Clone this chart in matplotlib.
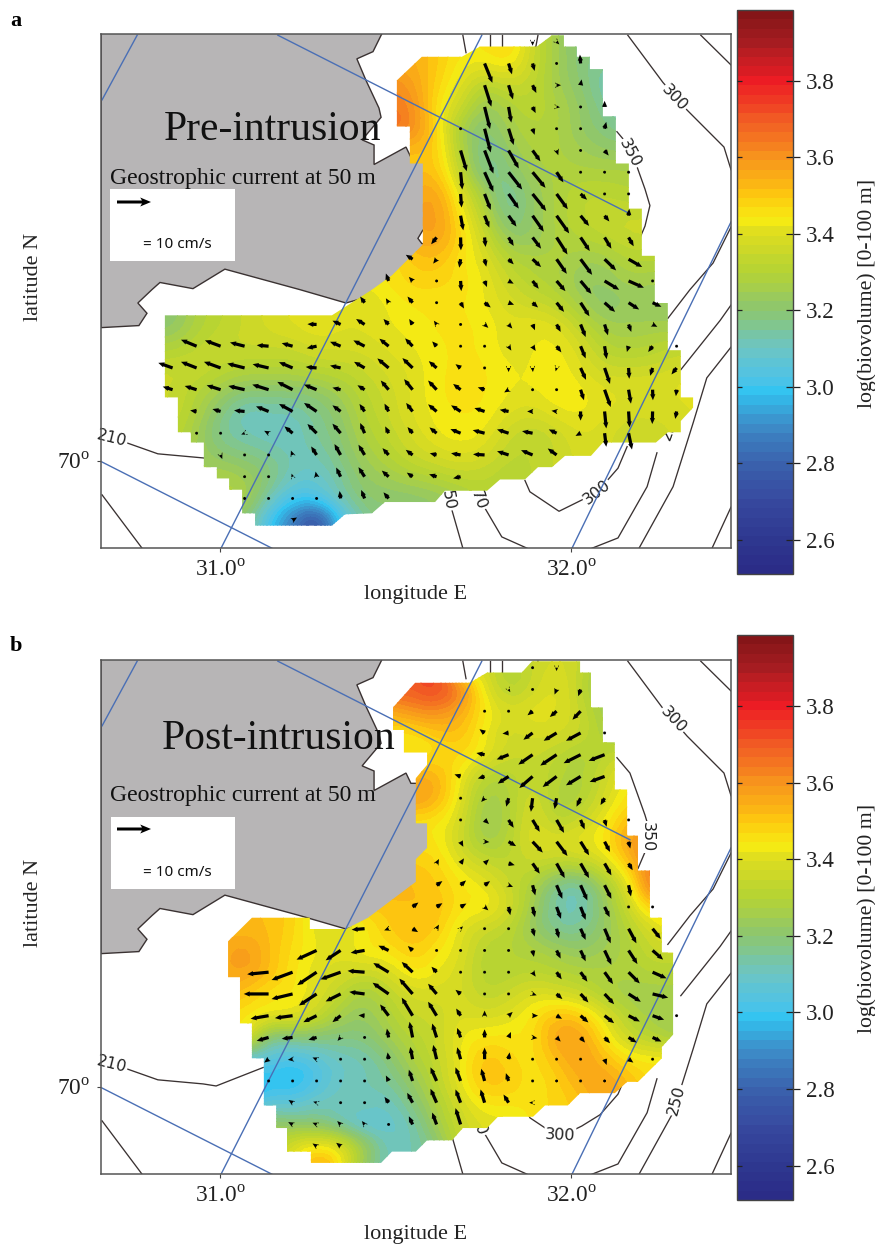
import numpy as np
import matplotlib
matplotlib.use("Agg")
import matplotlib.pyplot as plt
from matplotlib.colors import LinearSegmentedColormap
from matplotlib.patches import Polygon

plt.rcParams['font.family'] = ['Liberation Serif', 'DejaVu Serif']
plt.rcParams['mathtext.fontset'] = 'custom'
plt.rcParams['mathtext.rm'] = 'Liberation Serif'
W, H = 875, 1246

# ---------- sampling grid of the survey ----------
lon_grid = 30.865 + 0.06838 * np.arange(-1, 23)
lat_grid = 70.4087 - 0.0212 * np.arange(-1, 24)
xlim = (30.661, 32.456)
ylim = (69.9152, 70.4162)

# ---------- log(biovolume) x 100, panel a ----------
field_start_a = [13, 10, 9, 9, 9, 9, 10, 10, 10, 9, 8, 7, 6, 0, 0, 0, 0, 0, 0, 1, 2, 3, 3]
field_a = [
 [345, 350, 335, 325, 318],
 [355, 350, 343, 342, 345, 335, 325, 318, 315],
 [362, 358, 348, 340, 330, 335, 333, 325, 320, 312, 310],
 [365, 362, 345, 335, 322, 328, 332, 328, 322, 315, 310],
 [368, 362, 348, 325, 318, 325, 330, 328, 322, 318, 315],
 [350, 352, 350, 328, 315, 322, 328, 328, 325, 322, 322],
 [350, 352, 332, 315, 318, 326, 328, 328, 328, 328, 328],
 [355, 358, 340, 325, 313, 322, 328, 332, 332, 330, 330],
 [355, 360, 345, 330, 315, 322, 328, 332, 335, 335, 335, 335],
 [350, 355, 358, 348, 335, 322, 322, 328, 330, 332, 335, 335, 335],
 [345, 345, 350, 352, 345, 340, 330, 328, 328, 325, 325, 330, 330, 330],
 [342, 342, 345, 348, 348, 346, 342, 335, 330, 328, 322, 322, 326, 325, 325],
 [340, 340, 340, 342, 345, 345, 345, 342, 338, 335, 332, 325, 320, 322, 322, 322],
 [320, 328, 332, 335, 338, 340, 342, 340, 340, 342, 343, 345, 345, 344, 340, 342, 340, 332, 325, 325, 325, 325],
 [328, 332, 335, 335, 335, 335, 338, 338, 338, 340, 342, 344, 345, 344, 340, 342, 343, 338, 330, 328, 330, 332],
 [335, 335, 332, 330, 330, 330, 332, 333, 335, 338, 340, 344, 345, 345, 342, 342, 344, 340, 335, 335, 335, 338],
 [335, 330, 325, 320, 320, 320, 322, 326, 332, 336, 340, 344, 346, 345, 342, 342, 344, 343, 340, 340, 340, 340, 342],
 [335, 328, 318, 310, 312, 312, 316, 322, 330, 335, 340, 343, 345, 344, 340, 338, 342, 343, 340, 338, 338, 338, 340],
 [332, 325, 315, 312, 310, 310, 315, 320, 328, 333, 338, 342, 344, 342, 335, 332, 335, 340, 338, 335, 335],
 [325, 320, 318, 315, 312, 312, 318, 325, 330, 335, 338, 340, 338, 332, 332, 335, 338, 338],
 [328, 325, 320, 310, 308, 315, 322, 325, 328, 330, 333, 332, 330, 332, 335],
 [328, 312, 300, 302, 312, 320, 320, 320, 322, 325],
 [320, 300, 285, 270, 300, 315],
]

# ---------- log(biovolume) x 100, panel b ----------
field_start_b = [13, 10, 9, 9, 9, 10, 10, 10, 10, 10, 9, 9, 3, 2, 2, 3, 3, 4, 4, 3, 4, 4, 5, 6]
field_b = [
 [338, 328, 335, 338, 335, 322],
 [370, 375, 365, 340, 330, 335, 342, 332, 322],
 [355, 360, 362, 355, 345, 338, 342, 340, 335, 325, 320],
 [345, 345, 350, 352, 342, 336, 338, 338, 335, 328, 322],
 [345, 343, 346, 348, 342, 335, 335, 332, 328, 332, 335],
 [355, 355, 342, 330, 330, 335, 330, 328, 335, 345],
 [360, 355, 340, 325, 328, 338, 328, 328, 338, 345, 350],
 [345, 345, 338, 322, 328, 340, 330, 335, 342, 352, 355],
 [345, 345, 335, 325, 330, 340, 340, 342, 345, 358, 365],
 [350, 348, 340, 335, 332, 335, 332, 332, 338, 350, 365],
 [355, 352, 350, 345, 342, 335, 328, 315, 312, 325, 340, 368, 368],
 [350, 352, 352, 345, 345, 338, 325, 312, 310, 322, 335, 350, 348],
 [352, 352, 348, 340, 340, 342, 350, 352, 350, 340, 335, 332, 322, 315, 315, 322, 330, 338, 345],
 [355, 360, 352, 346, 342, 340, 345, 345, 350, 345, 340, 330, 330, 328, 325, 322, 325, 328, 335, 335],
 [355, 358, 352, 345, 340, 338, 335, 338, 345, 342, 338, 330, 330, 332, 330, 328, 328, 328, 330, 330],
 [350, 345, 345, 340, 332, 325, 332, 338, 338, 338, 332, 335, 340, 338, 335, 328, 325, 325, 325],
 [345, 342, 342, 335, 325, 322, 328, 335, 335, 340, 338, 340, 345, 352, 350, 340, 330, 325, 325],
 [315, 318, 318, 318, 318, 325, 330, 335, 342, 345, 345, 345, 358, 358, 345, 335, 330],
 [305, 300, 305, 310, 312, 318, 328, 333, 342, 352, 348, 345, 352, 358, 352, 345, 345],
 [295, 298, 295, 302, 310, 312, 315, 322, 332, 342, 352, 350, 345, 348, 355, 358, 352],
 [305, 305, 310, 312, 312, 310, 318, 328, 338, 345, 345, 345, 348, 350],
 [325, 320, 320, 312, 305, 308, 312, 325, 335, 340, 340],
 [340, 345, 342, 325, 310, 312, 318],
 [360, 345, 320],
]

# ---------- geostrophic current (cm/s), panel a ----------
arrow_start_a = [15, 13, 13, 13, 12, 12, 12, 12, 12, 11, 10, 9, 8, 6, 1, 0, 0, 1, 1, 2, 3, 3, 5]
arrow_u_a = [
 [0.0, 0.8],
 [2.3, 1.0, 0.6, 0.2, -0.2],
 [2.0, 1.3, 1.1, 1.3, 0.3],
 [1.6, 0.8, 0.9, 1.0, 0.1, 0.0],
 [0.3, 1.8, 1.5, 0.6, 0.1, 0.1, 0.5],
 [1.8, 2.6, 3.0, 2.3, 0.5, 0.5, 1.2],
 [0.5, 2.6, 4.0, 3.8, 2.0, 0.1, 0.3, 0.1],
 [0.3, 1.8, 3.0, 4.0, 3.3, 1.9, 0.1, 0.3],
 [0.8, 1.4, 2.3, 3.3, 3.7, 2.5, 1.4, 0.2],
 [-1.6, 0.1, 0.3, 1.5, 2.5, 3.2, 2.7, 2.0, 1.5],
 [-2.0, -1.0, -0.4, 0.5, 1.5, 2.5, 3.0, 3.4, 3.4, 4.0],
 [-0.8, -1.1, -0.8, 0.2, 0.7, 1.5, 1.8, 2.6, 3.2, 4.3, 4.5, 0.1],
 [-1.3, -0.8, -1.5, 0.1, 1.0, 1.8, 1.6, 1.6, 2.2, 2.6, 3.1, 3.1, 2.6],
 [-2.7, -2.4, -2.5, -1.5, -1.0, -0.8, 0.2, 1.1, 1.1, 0.7, 1.2, 1.5, 1.0, 0.8, 1.4],
 [-4.6, -4.6, -4.3, -3.5, -3.2, -2.9, -3.1, -3.3, -2.7, -2.2, -1.3, 0.1, 0.2, 0.8, 0.9, 1.4, 1.5, 0.6, -0.5, -1.3, 0.1],
 [-4.2, -4.6, -4.9, -5.1, -4.7, -4.0, -3.2, -3.1, -3.1, -3.3, -3.0, -2.3, -1.5, 0.1, 0.0, 0.1, -0.3, 1.6, 1.6, 0.2, -0.7, -1.5],
 [-2.9, -3.5, -4.1, -4.8, -4.8, -4.5, -3.7, -2.4, -2.1, -2.3, -2.5, -2.5, -2.2, -2.0, -1.3, -0.6, 0.1, 1.0, 1.8, 0.7, 0.1, -0.2],
 [-1.9, -2.4, -3.1, -3.7, -4.0, -3.7, -2.4, -1.5, -1.2, -1.9, -2.5, -2.8, -3.0, -2.6, -1.6, -1.5, 0.0, 0.5, 0.3, -0.1, -0.4],
 [0.1, -0.6, -1.0, -1.3, -2.4, -2.7, -2.4, -1.3, -1.0, -1.5, -2.1, -3.0, -3.5, -3.4, -3.1, -2.3, -1.5, 0.5, 1.0],
 [0.5, 0.1, 0.1, -0.5, -1.6, -1.8, -1.8, -1.8, -2.0, -2.0, -2.8, -3.4, -3.4, -3.4, -2.6],
 [-0.1, 0.1, -0.3, -0.3, -1.3, -1.8, -2.0, -1.7, -2.2, -2.2],
 [-0.6, 0.8, 0.6, 0.3, -0.3, -1.0, -1.5],
 [1.3],
]
arrow_v_a = [
 [-1.2, -0.8],
 [-5.7, -3.2, -2.2, -0.2, 2.6],
 [-6.3, -4.2, -2.3, 0.0, 1.7],
 [-6.5, -4.6, -1.8, -0.1, 0.4, 1.8],
 [-0.1, -7.0, -4.8, -1.8, 0.0, 0.4, 2.0],
 [-6.1, -6.8, -5.3, -3.2, -1.4, -0.6, -1.5],
 [-5.1, -5.8, -5.1, -4.6, -3.0, 0.0, -0.3, 0.0],
 [-4.0, -4.7, -4.3, -5.0, -4.5, -1.7, 0.0, 0.0],
 [-4.3, -3.5, -3.2, -4.7, -5.2, -3.0, -1.7, 2.0],
 [-2.0, -3.8, -2.8, -2.5, -3.3, -5.0, -4.0, -3.3, -2.6],
 [1.3, -1.3, -2.5, -2.2, -1.5, -2.3, -4.3, -4.6, -3.3, -2.3],
 [2.2, 1.2, -0.3, -3.0, -1.8, -0.8, -2.3, -3.0, -3.8, -2.6, -2.0, 0.0],
 [1.8, 1.3, 1.8, 0.0, -1.7, -1.4, -0.6, -1.4, -2.7, -4.0, -2.7, -2.0, -1.2],
 [0.1, 1.1, 1.6, 1.6, 1.6, 1.1, 0.0, -1.0, -1.2, -1.7, -2.2, -3.7, -3.2, -2.2, -0.7],
 [1.9, 1.7, 1.1, 0.3, 0.9, -0.6, 1.3, 1.7, 2.2, 2.3, 1.4, 0.0, 0.0, -1.3, -1.4, -1.8, -3.6, -3.8, -1.7, -1.7, 0.0],
 [1.5, 1.8, 1.8, 1.3, 1.1, 1.7, 0.3, 0.7, 1.8, 2.8, 2.9, 2.0, 1.1, 0.0, -1.2, -1.2, -1.0, -3.5, -4.7, -3.2, -2.3, -1.9],
 [0.9, 1.1, 1.3, 1.1, 1.5, 2.3, 1.5, 0.6, 1.3, 2.7, 3.1, 2.7, 1.7, 0.7, -0.8, -0.5, 0.0, -3.1, -5.1, -4.1, -3.1, -1.9],
 [0.3, 0.7, 0.3, 1.5, 2.2, 2.5, 1.8, 2.2, 2.3, 2.5, 2.1, 1.8, 1.0, 0.5, 0.0, 0.2, -2.7, -5.0, -4.7, -3.7, -2.2],
 [-0.1, 0.0, -0.4, 0.7, 2.0, 2.7, 2.8, 3.0, 2.0, 1.8, 1.7, 1.2, 0.9, 1.1, 0.6, 1.1, -0.8, -4.0, -4.8],
 [-1.2, 0.0, 0.0, 1.3, 2.5, 3.2, 3.0, 2.0, 1.5, 0.5, 0.5, 0.2, 1.1, 1.4, 1.9],
 [0.3, 0.0, 0.9, 1.5, 2.7, 2.8, 1.8, 1.2, 0.7, -0.5],
 [0.4, -0.1, 0.7, 0.7, 2.2, 2.5, 1.8],
 [0.8],
]

# ---------- geostrophic current (cm/s), panel b ----------
arrow_start_b = [15, 14, 13, 13, 13, 12, 12, 12, 12, 11, 11, 10, 8, 6, 4, 4, 4, 4, 4, 4, 5, 5, 6]
arrow_u_b = [
 [0.1, 0.0],
 [0.5, 0.1, -0.6, -0.7],
 [-0.1, 0.1, -1.5, -2.0, -2.4],
 [-1.5, -1.8, -2.7, -3.8, -4.3, 0.1],
 [-2.4, -3.5, -4.2, -4.8, -5.0, -4.7],
 [-1.8, -2.0, -3.2, -3.9, -4.1, -4.3, -4.4],
 [0.1, -1.0, -0.7, -0.5, -0.6, -1.2, -1.2],
 [0.1, 1.3, 1.5, 2.1, 2.2, 1.2, 0.6, 0.1],
 [0.8, 1.4, 2.2, 3.0, 3.2, 2.5, 1.6, 0.5],
 [0.7, 1.0, 1.3, 1.8, 2.1, 2.4, 2.5, 2.0, 1.2],
 [1.7, 1.6, 1.6, 1.3, 0.8, 1.7, 2.0, 2.0, 0.7],
 [1.7, 1.7, 1.7, 1.1, 0.5, 0.7, 1.3, 1.5, 1.5, 0.6, 0.1],
 [-3.8, -1.3, 1.6, 0.7, 0.7, 0.1, 0.1, 0.6, 0.7, 1.5, 1.8, 2.3, 2.4],
 [-5.9, -4.4, -4.1, -3.0, -1.4, 0.2, 0.1, 0.1, 0.2, 0.4, 1.2, 1.5, 2.0, 2.6, 3.1],
 [-6.3, -6.2, -5.7, -5.9, -5.0, -4.5, -3.2, -1.5, -0.9, 0.1, 0.1, 0.9, 1.5, 2.0, 2.5, 3.3, 4.1],
 [-7.3, -6.2, -5.2, -4.4, -4.5, -4.7, -3.9, -2.5, -1.5, 0.1, 0.2, 1.2, 1.7, 2.3, 2.8, 3.6, 4.6],
 [-5.3, -5.2, -3.9, -2.4, -1.8, -2.5, -3.2, -2.5, -1.3, 0.0, 1.2, 1.6, 1.6, 2.3, 2.8, 3.3, 3.4, 0.1],
 [-3.5, -3.2, -2.4, -0.9, 0.1, -0.5, -0.9, -1.3, -1.0, 0.0, 0.7, 1.4, 1.2, 1.3, 1.6, 2.4, 2.6],
 [-1.3, -1.4, -1.2, 0.1, 0.1, -0.3, -0.7, -1.0, -1.0, 0.0, 0.3, 0.1, -0.2, 0.1, 0.6, 1.4, 0.1],
 [0.1, 0.1, 0.1, 0.1, 0.1, -0.8, -1.1, -1.8, -1.5, -1.0, -0.8, 0.1, 0.0, 0.3, 0.0],
 [-1.2, -1.0, 0.1, 0.1, -1.2, -1.6, -1.8, -1.5, -1.2, -1.5, -1.0],
 [-1.3, -1.2, -1.0, -0.8, 0.1, -1.1, -1.3, -1.5],
 [-1.2, -1.3],
]
arrow_v_b = [
 [0.1, -1.0],
 [-0.8, 0.0, -1.5, -2.0],
 [0.2, 0.0, -1.2, -1.7, -2.5],
 [1.1, -0.2, -2.0, -2.3, -2.3, 0.0],
 [0.5, -1.4, -2.9, -3.2, -2.5, -1.8],
 [0.6, -0.6, -2.1, -3.4, -3.1, -2.6, -1.6],
 [0.0, -1.1, -2.5, -4.0, -3.2, -2.5, -2.0],
 [0.0, -1.2, -2.3, -3.5, -3.8, -2.8, -2.0, 0.0],
 [-1.5, -0.1, -1.3, -3.2, -4.2, -4.0, -3.0, -2.0],
 [1.3, 1.5, 1.2, -0.5, -3.0, -4.3, -4.3, -3.5, -2.0],
 [1.2, 1.4, 1.2, -0.5, -3.0, -4.0, -4.5, -4.0, -3.3],
 [1.3, 1.1, 1.0, -1.0, -2.4, -3.0, -3.5, -3.8, -3.0, 0.0, 0.3],
 [-0.3, -0.5, -1.0, 1.2, 0.7, 0.0, 0.0, -2.3, -2.8, -3.3, -4.3, -4.3, -3.0],
 [-2.7, -2.9, -0.7, 1.4, 1.3, 0.0, 0.0, 0.0, 0.0, -1.9, -2.4, -3.2, -4.2, -4.0, -2.7],
 [-0.6, -2.3, -3.8, -2.1, 0.4, 2.7, 3.0, 1.6, 0.1, 0.0, 0.0, -1.3, -2.1, -2.8, -3.5, -3.3, -1.8],
 [0.0, -1.5, -3.4, -2.2, 0.6, 3.3, 4.5, 3.0, 1.2, 0.0, 0.0, -0.4, -1.5, -2.5, -3.0, -2.3, -1.1],
 [-0.9, -0.7, -1.9, -1.9, 0.1, 3.3, 5.3, 4.1, 2.1, 1.5, 1.1, 0.0, -0.9, -2.0, -2.2, -1.7, -1.2, 0.0],
 [-1.0, -0.4, -0.7, -1.0, 0.0, 2.6, 4.6, 4.1, 2.8, 2.4, 1.6, -0.2, -1.2, -1.5, -1.7, -1.5, -1.2],
 [-1.0, -0.2, 0.5, 0.0, 0.0, 2.0, 3.6, 4.2, 3.5, 3.4, 2.0, 0.0, 0.7, 0.0, -1.7, -1.0, 0.0],
 [0.0, 0.0, 0.0, 0.0, 0.0, 1.6, 3.3, 4.0, 4.0, 3.6, 2.3, 0.0, 0.9, 0.5, 0.8],
 [0.8, 0.3, 0.0, 0.0, 1.7, 2.9, 4.1, 3.9, 3.9, 2.4, 0.0],
 [0.7, 0.5, 1.0, 1.0, 0.0, 2.4, 3.5, 4.8],
 [0.8, 1.0],
]

# ---------- survey outlines ----------
survey_lon_a = [31.504, 31.575, 31.689, 31.741, 31.903, 31.946, 31.980, 31.980, 32.017, 32.017, 32.054, 32.054, 32.091, 32.091, 32.128, 32.128, 32.165, 32.165, 32.202, 32.202, 32.239, 32.239, 32.276, 32.276, 32.313, 32.313, 32.348, 32.348, 32.313, 32.313, 32.276, 32.242, 32.091, 32.057, 31.983, 31.946, 31.906, 31.869, 31.798, 31.761, 31.641, 31.613, 31.470, 31.433, 31.356, 31.319, 31.100, 31.100, 31.063, 31.063, 31.026, 31.026, 30.991, 30.991, 30.954, 30.954, 30.917, 30.917, 30.880, 30.880, 30.843, 30.843, 31.319, 31.433, 31.490, 31.578, 31.578, 31.541, 31.541, 31.504]
survey_lat_a = [70.371, 70.394, 70.394, 70.404, 70.404, 70.415, 70.415, 70.404, 70.404, 70.394, 70.394, 70.382, 70.382, 70.336, 70.336, 70.290, 70.290, 70.246, 70.246, 70.200, 70.200, 70.154, 70.154, 70.108, 70.108, 70.062, 70.062, 70.052, 70.039, 70.028, 70.028, 70.018, 70.018, 70.005, 70.005, 69.994, 69.994, 69.982, 69.982, 69.971, 69.971, 69.960, 69.960, 69.949, 69.948, 69.937, 69.937, 69.949, 69.949, 69.972, 69.972, 69.983, 69.983, 69.994, 69.994, 70.018, 70.018, 70.028, 70.028, 70.062, 70.062, 70.142, 70.142, 70.167, 70.181, 70.211, 70.290, 70.290, 70.326, 70.326]
survey_lon_b = [31.493, 31.556, 31.712, 31.761, 31.860, 31.889, 32.026, 32.026, 32.057, 32.057, 32.091, 32.091, 32.125, 32.125, 32.160, 32.160, 32.191, 32.191, 32.225, 32.225, 32.259, 32.259, 32.291, 32.291, 32.259, 32.259, 32.191, 32.160, 32.125, 32.026, 31.991, 31.926, 31.892, 31.792, 31.761, 31.692, 31.661, 31.590, 31.558, 31.490, 31.459, 31.259, 31.259, 31.191, 31.191, 31.160, 31.160, 31.125, 31.125, 31.091, 31.091, 31.057, 31.057, 31.023, 31.023, 31.091, 31.256, 31.256, 31.359, 31.422, 31.558, 31.558, 31.590, 31.590, 31.558, 31.558, 31.590, 31.590, 31.524, 31.524, 31.493]
survey_lat_b = [70.370, 70.394, 70.394, 70.404, 70.404, 70.415, 70.415, 70.404, 70.404, 70.370, 70.370, 70.336, 70.336, 70.290, 70.290, 70.245, 70.245, 70.211, 70.211, 70.165, 70.165, 70.131, 70.131, 70.051, 70.039, 70.028, 70.005, 70.005, 69.994, 69.994, 69.982, 69.982, 69.971, 69.971, 69.960, 69.960, 69.948, 69.948, 69.937, 69.937, 69.926, 69.926, 69.937, 69.937, 69.960, 69.960, 69.982, 69.982, 70.028, 70.028, 70.062, 70.062, 70.107, 70.107, 70.142, 70.165, 70.165, 70.154, 70.154, 70.165, 70.200, 70.222, 70.233, 70.257, 70.257, 70.301, 70.314, 70.326, 70.326, 70.348, 70.348]

# ---------- coast ----------
land_lon = [30.661, 31.462, 31.436, 31.390, 31.416, 31.453, 31.459, 31.422, 31.405, 31.439, 31.439, 31.530, 31.544, 31.601, 31.601, 31.578, 31.564, 31.575, 31.593, 31.499, 31.442, 31.359, 31.228, 31.014, 30.923, 30.829, 30.806, 30.766, 30.792, 30.769, 30.661]
land_lat = [70.417, 70.417, 70.399, 70.392, 70.371, 70.344, 70.335, 70.320, 70.313, 70.308, 70.289, 70.306, 70.296, 70.296, 70.225, 70.225, 70.217, 70.212, 70.211, 70.176, 70.162, 70.154, 70.167, 70.187, 70.168, 70.174, 70.167, 70.154, 70.144, 70.132, 70.130]

# ---------- bathymetry isolines (lon list, lat list) ----------
iso_lons = [
 [30.680, 30.732, 30.823, 30.952, 30.989, 31.123],
 [30.664, 30.778],
 [31.692, 31.701], [31.769, 31.769], [31.803, 31.803], [31.906, 31.900],
 [32.162, 32.262, 32.331, 32.436, 32.456],
 [32.370, 32.456],
 [32.131, 32.168, 32.188, 32.211, 32.225, 32.211, 32.191],
 [32.276, 32.339, 32.405, 32.456],
 [32.313, 32.425, 32.456],
 [32.456, 32.387, 32.348, 32.291, 32.194],
 [32.245, 32.217, 32.134, 32.060],
 [31.869, 31.883, 31.966, 32.031, 32.083, 32.134, 32.160],
 [31.645, 31.661, 31.692],
 [31.735, 31.755, 31.803, 31.875],
 [32.456, 32.402],
]
iso_lats = [
 [70.028, 70.018, 70.007, 70.003, 70.001, 70.019],
 [69.967, 69.915],
 [70.415, 70.398], [70.415, 70.404], [70.415, 70.404], [70.415, 70.404],
 [70.415, 70.369, 70.342, 70.306, 70.284],
 [70.415, 70.386],
 [70.321, 70.306, 70.287, 70.265, 70.249, 70.229, 70.213],
 [70.139, 70.167, 70.193, 70.228],
 [70.089, 70.137, 70.152],
 [70.111, 70.081, 70.037, 69.975, 69.915],
 [70.008, 69.975, 69.925, 69.915],
 [69.981, 69.970, 69.951, 69.962, 69.973, 69.993, 70.014],
 [69.971, 69.952, 69.915],
 [69.970, 69.954, 69.926, 69.915],
 [69.955, 69.915],
]
iso_text_a = ['210', '300', '350', '300', '50', '70', '250']
iso_x_a = [30.692, 32.296, 32.168, 32.074, 31.650, 31.735, 32.285]
iso_y_a = [70.022, 70.354, 70.300, 69.970, 69.962, 69.962, 70.035]
iso_rot_a = [-14, -47, -62, 38, -80, -70, 70]
iso_text_b = ['210', '300', '350', '300', '70', '250']
iso_x_b = [30.692, 32.291, 32.217, 31.969, 31.735, 32.302]
iso_y_b = [70.022, 70.358, 70.244, 69.953, 69.962, 69.987]
iso_rot_b = [-14, -47, -90, -3, -70, 75]

# ---------- graticule ----------
grat_lons = [[30.764, 30.664], [31.165, 32.168], [31.746, 31.003], [30.664, 31.148], [32.456, 32.003]]
grat_lats = [[70.415, 70.352], [70.415, 70.241], [70.415, 69.915], [69.999, 69.915], [70.233, 69.915]]

# ---------- colour scale ----------
cb_val = [2.51, 2.6, 2.7, 2.8, 2.9, 2.95, 2.985, 3.02, 3.1, 3.2, 3.3, 3.4, 3.44, 3.5, 3.6, 3.7, 3.8, 3.9, 3.986]
cb_col = ['#2a2a86', '#2e3890', '#37499f', '#3a62ad', '#3d8cc8', '#37aee0', '#2fc4f2', '#4fc3e6', '#6cc5c4',
          '#8cc670', '#b5d334', '#dcdc20', '#f7ec13', '#fdc80f', '#f7941d', '#f15a24', '#ed1c24', '#a81d22', '#7f1416']
cb_ticks = [2.6, 2.8, 3.0, 3.2, 3.4, 3.6, 3.8]
vmin, vmax = cb_val[0], cb_val[-1]
cmap = LinearSegmentedColormap.from_list('bio', [((v - vmin) / (vmax - vmin), c) for v, c in zip(cb_val, cb_col)], N=256)
levels = np.linspace(vmin, vmax, 61)

fig = plt.figure(figsize=(W / 100, H / 100), dpi=100)


def rect(x0, y0, x1, y1):
    return [x0 / W, 1 - y1 / H, (x1 - x0) / W, (y1 - y0) / H]


def ftext(x, y, s, **kw):
    return fig.text(x / W, 1 - y / H, s, **kw)


def build_field(starts, rows):
    grid = np.full((len(lat_grid), len(lon_grid)), np.nan)
    for k, (s, r) in enumerate(zip(starts, rows)):
        grid[k + 1, s + 1:s + 1 + len(r)] = np.array(r) / 100
    ok = np.argwhere(~np.isnan(grid))
    for i, j in np.argwhere(np.isnan(grid)):
        d = (ok[:, 0] - i) ** 2 + (ok[:, 1] - j) ** 2
        grid[i, j] = grid[tuple(ok[d.argmin()])]
    return grid


def render_surface(grid, factor=4, blur=5):
    """Resample the read values finer and soften cell edges, for drawing only."""
    ni = np.arange(grid.shape[0])
    nj = np.arange(grid.shape[1])
    fi = np.linspace(0, ni[-1], (len(ni) - 1) * factor + 1)
    fj = np.linspace(0, nj[-1], (len(nj) - 1) * factor + 1)
    fine = np.array([np.interp(fj, nj, row) for row in grid])
    fine = np.array([np.interp(fi, ni, col) for col in fine.T]).T
    kernel = np.ones(blur) / blur
    for axis in (0, 1):
        padded = np.concatenate([np.take(fine, [0] * (blur // 2), axis), fine, np.take(fine, [-1] * (blur // 2), axis)], axis)
        fine = np.apply_along_axis(lambda m: np.convolve(m, kernel, mode='valid'), axis, padded)
    flon = np.interp(fj, nj, lon_grid)
    flat = np.interp(fi, ni, lat_grid)
    return flon, flat, fine


def arrows(ax, starts, us, vs):
    lo, la, uu, vv = [], [], [], []
    for k, (s, u, v) in enumerate(zip(starts, us, vs)):
        for j, (a, b) in enumerate(zip(u, v)):
            lo.append(lon_grid[s + j + 1])
            la.append(lat_grid[k + 1])
            uu.append(a)
            vv.append(b)
    ax.quiver(lo, la, uu, vv, units='dots', width=3.2, scale=1 / 3.4, scale_units='dots', angles='uv',
              pivot='tail', headwidth=1.65, headlength=1.9, headaxislength=1.8, minshaft=0.6, minlength=1.0,
              color='black', zorder=6)


def panel(top, cb_top, cb_bot, letter, letter_y, title, title_x, title_base, geo_base, box, key_y, key_text_y, xlabel_y,
          fstart, fvals, poly_lon, poly_lat, astart, au, av, t, tx, ty, tr):
    ax = fig.add_axes(rect(101, top, 731, top + 514))
    ax.set_xlim(xlim)
    ax.set_ylim(ylim)
    ax.fill(land_lon, land_lat, facecolor='#b7b5b6', edgecolor='#3a3232', lw=1.0, zorder=1)
    for lo, la in zip(iso_lons, iso_lats):
        ax.plot(lo, la, color='#3a3232', lw=0.95, zorder=2)
    for s, x, y, r in zip(t, tx, ty, tr):
        ax.text(x, y, s, rotation=r, family='DejaVu Sans', fontsize=11.5, color='#222222', ha='center', va='center',
                rotation_mode='anchor', zorder=3, bbox=dict(facecolor='white', edgecolor='none', pad=0.6))
    flon, flat, fz = render_surface(build_field(fstart, fvals))
    cs = ax.contourf(flon, flat, fz, levels=levels, cmap=cmap, zorder=4, antialiased=False, extend='both')
    cs.set_clip_path(Polygon(np.c_[poly_lon, poly_lat], closed=True, transform=ax.transData))
    for lo, la in zip(grat_lons, grat_lats):
        ax.plot(lo, la, color='#4a6fb5', lw=1.0, zorder=5)
    arrows(ax, astart, au, av)
    ax.set_xticks([31.0, 32.0])
    ax.set_xticklabels(['31.0$^{\\mathrm{o}}$', '32.0$^{\\mathrm{o}}$'], fontsize=16.8)
    ax.set_yticks([70.0])
    ax.set_yticklabels(['70$^{\\mathrm{o}}$'], fontsize=16.8)
    ax.tick_params(length=3, width=0.8, color='#444444', pad=5, labelcolor='#222222')
    for sp in ax.spines.values():
        sp.set_color('#555555')
        sp.set_linewidth(1.1)
        sp.set_zorder(8)
    ftext(416, xlabel_y, 'longitude E', fontsize=16, ha='center', va='center', color='#222222')
    ftext(34, top + 243, 'latitude N', fontsize=16, rotation=90, ha='center', va='center', color='#222222')
    ftext(10, letter_y, letter, fontsize=16, fontweight='bold', ha='left', va='baseline')
    ftext(title_x, title_base, title, fontsize=30, ha='left', va='baseline', color='#111111', zorder=10)
    ftext(110, geo_base, 'Geostrophic current at 50 m', fontsize=17.1, ha='left', va='baseline', color='#111111', zorder=10)
    # key box and reference arrow
    ax.add_patch(plt.Rectangle((box[0] / W, 1 - box[3] / H), (box[2] - box[0]) / W, (box[3] - box[1]) / H,
                               transform=fig.transFigure, facecolor='white', edgecolor='none', zorder=5))
    kx, ky = ax.transData.inverted().transform((117, H - key_y))
    ax.quiver([kx], [ky], [10], [0], units='dots', width=3.0, scale=1 / 3.4, scale_units='dots', angles='uv',
              pivot='tail', headwidth=3.0, headlength=3.6, headaxislength=3.0, color='black', zorder=7)
    ftext(177, key_text_y, '= 10 cm/s', family='Noto Sans', fontsize=11, ha='center', va='center', color='#111111', zorder=10)
    # colour bar
    cax = fig.add_axes(rect(737, cb_top, 793, cb_bot))
    cb = fig.colorbar(cs, cax=cax, ticks=cb_ticks, format='%.1f', extendrect=True, extendfrac=0)
    cax.tick_params(axis='y', direction='inout', length=9.5, width=0.9, labelsize=16.6, pad=4.5, color='#222222', labelcolor='#222222')
    cax.hlines(cb_ticks, 0, 0.09, transform=cax.get_yaxis_transform(), color='#222222', lw=0.9, zorder=5)
    cb.outline.set_edgecolor('#444444')
    cb.outline.set_linewidth(1.0)
    ftext(867, (cb_top + cb_bot) / 2 + 1, 'log(biovolume) [0-100 m]', fontsize=15.7, rotation=90, ha='center', va='center', color='#222222')
    return ax


panel(34, 10, 574, 'a', 26, 'Pre-intrusion', 164, 140, 184, (110, 189, 235, 261), 202, 245, 595,
      field_start_a, field_a, survey_lon_a, survey_lat_a, arrow_start_a, arrow_u_a, arrow_v_a,
      iso_text_a, iso_x_a, iso_y_a, iso_rot_a)
panel(660, 635, 1200, 'b', 651, 'Post-intrusion', 162, 749, 801, (111, 817, 235, 889), 829, 872, 1234,
      field_start_b, field_b, survey_lon_b, survey_lat_b, arrow_start_b, arrow_u_b, arrow_v_b,
      iso_text_b, iso_x_b, iso_y_b, iso_rot_b)

fig.savefig('out.png', dpi=100)
